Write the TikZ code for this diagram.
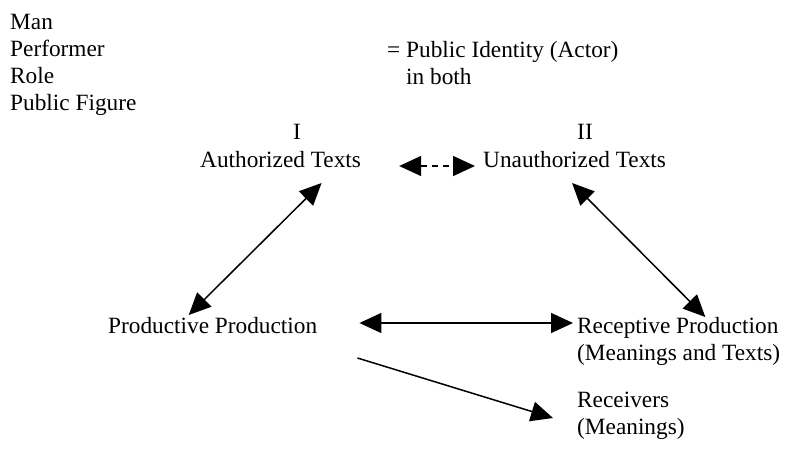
\documentclass[tikz,border=0pt]{standalone}
\usepackage{fontspec}
\setmainfont{Liberation Serif}
\usetikzlibrary{arrows.meta}

\begin{document}
\begin{tikzpicture}[x=1pt, y=-1pt, >={Triangle[length=22pt, width=20pt]},
  every node/.style={font=\fontsize{23.3}{27}\selectfont}]
\tikzset{
  txt/.style={inner sep=0pt, anchor=base west},
  num/.style={inner sep=0pt, anchor=base},
  link/.style={line width=1.5pt},
  dlink/.style={line width=1.5pt, dash pattern=on 6pt off 5pt}
}
\useasboundingbox (0,0) rectangle (785,450);
% identity list
\foreach \lbl [count=\i] in {Man, Performer, Role, Public Figure} {
  \node[txt] (id\i) at (10,{2+27*\i}) {\lbl};
}
\node[txt] (pubid) at (387,57) {= Public Identity (Actor)};
\node[txt] (both) at (406,84) {in both};
% texts
\node[num] (one) at (297,139) {I};
\node[txt] (auth) at (200,167) {Authorized Texts};
\node[num] (two) at (585,139) {II};
\node[txt] (unauth) at (483,167) {Unauthorized Texts};
% production
\node[txt] (prod) at (108,333) {Productive Production};
\node[txt] (recp) at (577,333) {Receptive Production};
\node[txt] (recpm) at (577,360) {(Meanings and Texts)};
\node[txt] (recv) at (577,407) {Receivers};
\node[txt] (recvm) at (577,434) {(Meanings)};
% connectors
\draw[dlink, <->] ([shift={(38,-1)}]auth.base east) -- ([shift={(-8,-1)}]unauth.base west);
\draw[link, <->] ([shift={(41,16)}]auth.base) -- ([shift={(-24,-18)}]prod.base);
\draw[link, <->] ([shift={(-2.5,16)}]unauth.base) -- ([shift={(27.5,-16)}]recp.base);
\draw[link, <->] ([shift={(42,-10)}]prod.base east) -- ([shift={(-4,-10)}]recp.base west);
\draw[link, ->] ([shift={(40,25)}]prod.base east) -- ([shift={(-24,11)}]recv.base west);
\end{tikzpicture}
\end{document}
